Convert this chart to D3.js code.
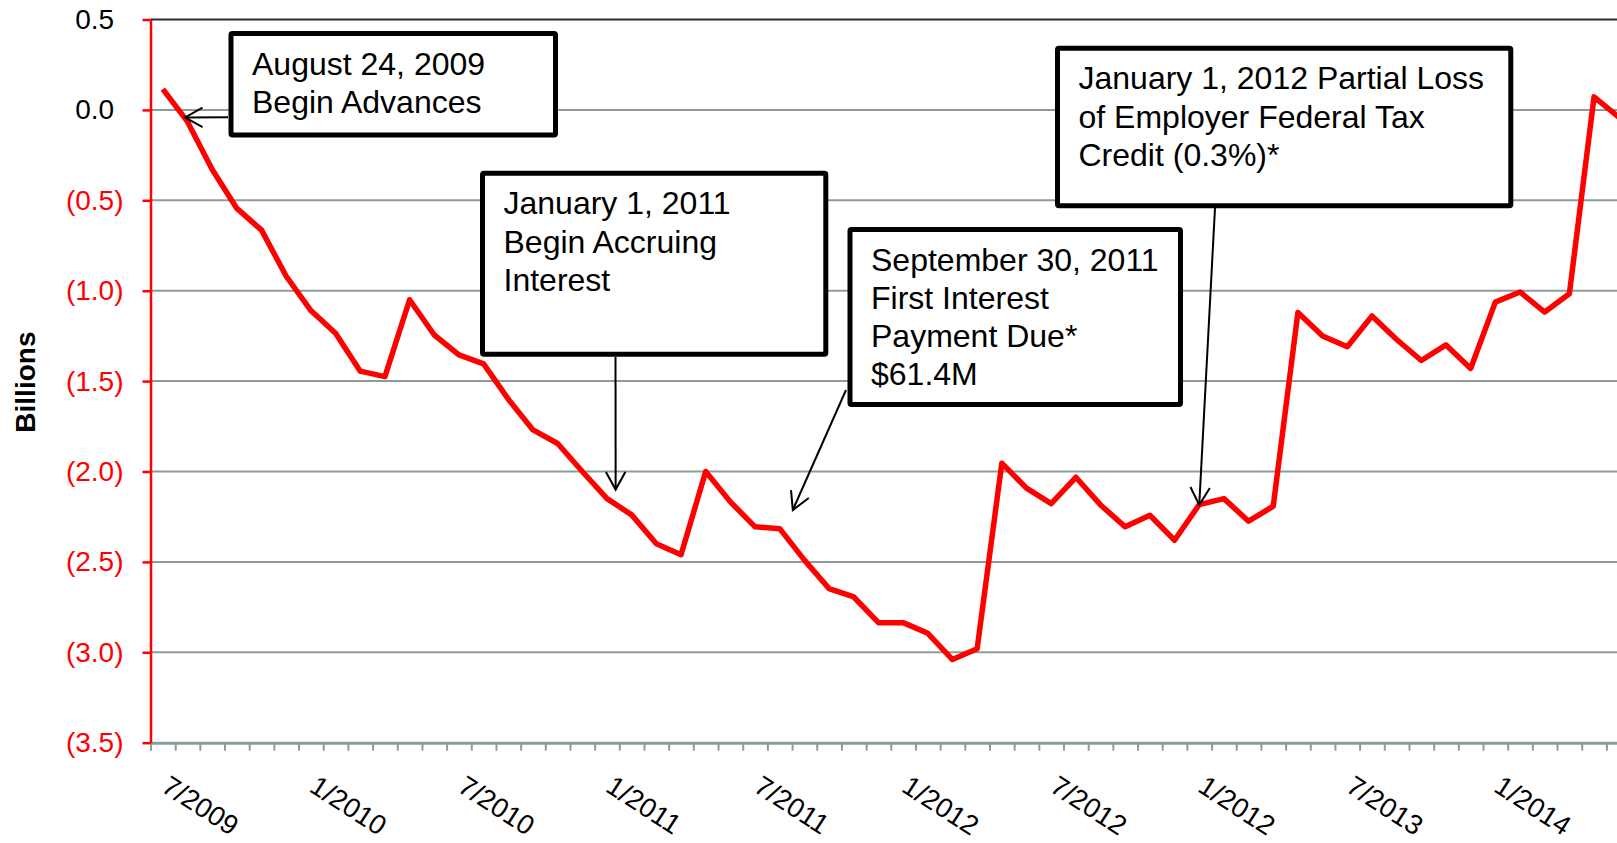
<!DOCTYPE html>
<html>
<head>
<meta charset="utf-8">
<script src="https://cdn.jsdelivr.net/npm/d3@7"></script>
<style>
  html, body { margin: 0; padding: 0; background: #fff; overflow: hidden; }
  svg { display: block; font-family: "Liberation Sans", Arial, sans-serif; }
</style>
</head>
<body>
<svg id="chart" width="1617" height="843"></svg>
<script>
// Monthly fund balance, July 2009 through June 2014 (billions)
const startYear = 2009, startMonth = 7, monthCount = 60;
const months = [];
for (let i = 0; i < monthCount; i++) {
  const m = (startMonth - 1 + i) % 12 + 1;
  const yr = startYear + Math.floor((startMonth - 1 + i) / 12);
  months.push(m + "/" + yr);
}

const balance = [
   0.115, -0.065, -0.33, -0.545, -0.665, -0.92, -1.11, -1.235, -1.445, -1.475,
  -1.05, -1.245, -1.355, -1.405, -1.60, -1.77, -1.845, -2.00, -2.15, -2.24,
  -2.40, -2.46, -2.00, -2.168, -2.306, -2.316, -2.49, -2.648, -2.694, -2.836,
  -2.836, -2.895, -3.04, -2.98, -1.954, -2.092, -2.178, -2.032, -2.185, -2.306,
  -2.242, -2.38, -2.183, -2.15, -2.275, -2.192, -1.12, -1.25, -1.31, -1.14,
  -1.27, -1.386, -1.30, -1.43, -1.063, -1.007, -1.118, -1.017, 0.072, -0.04
];

// Axis labels as printed, one every six months
const xTickLabels = ["7/2009", "1/2010", "7/2010", "1/2011", "7/2011",
                     "1/2012", "7/2012", "1/2012", "7/2013", "1/2014"];
const xLabelEvery = 6;
const yTicks = [0.5, 0.0, -0.5, -1.0, -1.5, -2.0, -2.5, -3.0, -3.5];
const yTitle = "Billions";

// Event call-outs: text lines and the point (month index, value) each arrow marks
const events = [
  { lines: ["August 24, 2009", "Begin Advances"], at: [0.9, -0.042] },
  { lines: ["January 1, 2011", "Begin Accruing", "Interest"], at: [18.35, -2.10] },
  { lines: ["September 30, 2011", "First Interest", "Payment Due*", "$61.4M"], at: [25.53, -2.213] },
  { lines: ["January 1, 2012 Partial Loss", "of Employer Federal Tax", "Credit (0.3%)*"], at: [42.0, -2.185] }
];

// ---- layout ----
const plotLeft = 150.5, tickStep = 24.676;
const plotRight = plotLeft + tickStep * monthCount;
const plotTop = 19.5, plotBottom = 742.7;

// call-out boxes (outer edges) and where each arrow leaves its box
const boxLayout = [
  { x0: 228.5, y0: 31,    x1: 558,    y1: 137.5, from: [228, 117.3] },
  { x0: 480,   y0: 170.7, x1: 828.3,  y1: 356.7, from: [615.5, 357] },
  { x0: 847.5, y0: 227,   x1: 1183,   y1: 407,   from: [846, 390] },
  { x0: 1055,  y0: 45.7,  x1: 1513.3, y1: 208.3, from: [1215, 208] }
];

const svg = d3.select("#chart");

const x = d3.scaleBand().domain(d3.range(monthCount)).range([plotLeft, plotRight]).padding(0);
const xc = i => x(Math.floor(i)) + x.bandwidth() / 2 + (i - Math.floor(i)) * x.bandwidth();
const xTick = d3.scaleLinear().domain([0, monthCount]).range([plotLeft, plotRight]);
const y = d3.scaleLinear().domain([-3.5, 0.5]).range([plotBottom, plotTop]);

const gridColor = "#8e9b9b";

// horizontal gridlines
svg.append("g").selectAll("line")
  .data(yTicks.filter(v => v > -3.5))
  .join("line")
  .attr("x1", plotLeft).attr("x2", plotRight)
  .attr("y1", d => y(d)).attr("y2", d => y(d))
  .attr("stroke", d => d === 0.5 ? "#2a2a2a" : gridColor)
  .attr("stroke-width", 2);

// category axis: tick marks on month boundaries
const xAxis = svg.append("g")
  .attr("transform", `translate(0,${plotBottom})`)
  .call(d3.axisBottom(xTick).tickValues(d3.range(monthCount + 1)).tickFormat("").tickSize(8).tickSizeOuter(0));
xAxis.select(".domain").attr("stroke", gridColor).attr("stroke-width", 3);
xAxis.selectAll(".tick line").attr("stroke", gridColor).attr("stroke-width", 2);

// rotated month labels
svg.append("g").selectAll("text")
  .data(xTickLabels)
  .join("text")
  .attr("transform", (d, k) => `translate(${xc(k * xLabelEvery) + 8},${774}) rotate(33)`)
  .attr("dy", "0.72em")
  .attr("font-size", 27.5)
  .attr("fill", "#000")
  .text(d => d);

// value axis
const fmt = v => v >= 0 ? v.toFixed(1) : "(" + Math.abs(v).toFixed(1) + ")";
const yAxis = svg.append("g")
  .attr("transform", `translate(${plotLeft},0)`)
  .call(d3.axisLeft(y).tickValues(yTicks).tickFormat(fmt).tickSize(8).tickSizeOuter(0).tickPadding(19));
yAxis.select(".domain").attr("stroke", "#ff0000").attr("stroke-width", 2.5);
yAxis.selectAll(".tick line").attr("stroke", "#ff0000").attr("stroke-width", 2.5);
yAxis.selectAll(".tick text")
  .attr("font-size", 28)
  .attr("font-family", "Liberation Sans, Arial, sans-serif")
  .attr("fill", d => d >= 0 ? "#000" : "#ff0000")
  .attr("dx", d => d >= 0 ? "-0.333em" : 0);

// axis title
svg.append("text")
  .attr("transform", `translate(35,${(plotTop + plotBottom) / 2 + 1}) rotate(-90)`)
  .attr("text-anchor", "middle")
  .attr("font-size", 28)
  .attr("font-weight", "bold")
  .text(yTitle);

// balance line
svg.append("path")
  .datum(balance)
  .attr("fill", "none")
  .attr("stroke", "#ff0000")
  .attr("stroke-width", 5.5)
  .attr("stroke-linejoin", "round")
  .attr("d", d3.line().x((d, i) => xc(i)).y(d => y(d)));

// arrows from each call-out to its month
const arrows = svg.append("g").attr("stroke", "#000").attr("stroke-width", 2).attr("fill", "none");
events.forEach((ev, k) => {
  const [sx, sy] = boxLayout[k].from;
  const tx = xc(ev.at[0]), ty = y(ev.at[1]);
  const ang = Math.atan2(ty - sy, tx - sx);
  const L = 20, spread = Math.PI / 6.2;
  const p1 = [tx - L * Math.cos(ang - spread), ty - L * Math.sin(ang - spread)];
  const p2 = [tx - L * Math.cos(ang + spread), ty - L * Math.sin(ang + spread)];
  arrows.append("line").attr("x1", sx).attr("y1", sy).attr("x2", tx).attr("y2", ty);
  arrows.append("path").attr("d", `M${p1[0]},${p1[1]}L${tx},${ty}L${p2[0]},${p2[1]}`);
});

// call-out boxes
const boxStroke = 5;
const lineGap = 38.3;
events.forEach((ev, k) => {
  const b = boxLayout[k];
  const g = svg.append("g");
  g.append("rect")
    .attr("x", b.x0 + boxStroke / 2).attr("y", b.y0 + boxStroke / 2)
    .attr("width", b.x1 - b.x0 - boxStroke).attr("height", b.y1 - b.y0 - boxStroke)
    .attr("rx", 1.5)
    .attr("fill", "#fff").attr("stroke", "#000").attr("stroke-width", boxStroke);
  g.append("text")
    .attr("font-size", 32)
    .attr("fill", "#000")
    .selectAll("tspan")
    .data(ev.lines)
    .join("tspan")
    .attr("x", b.x0 + 23.5)
    .attr("y", (d, j) => b.y0 + 43.5 + j * lineGap)
    .text(d => d);
});
</script>
</body>
</html>
